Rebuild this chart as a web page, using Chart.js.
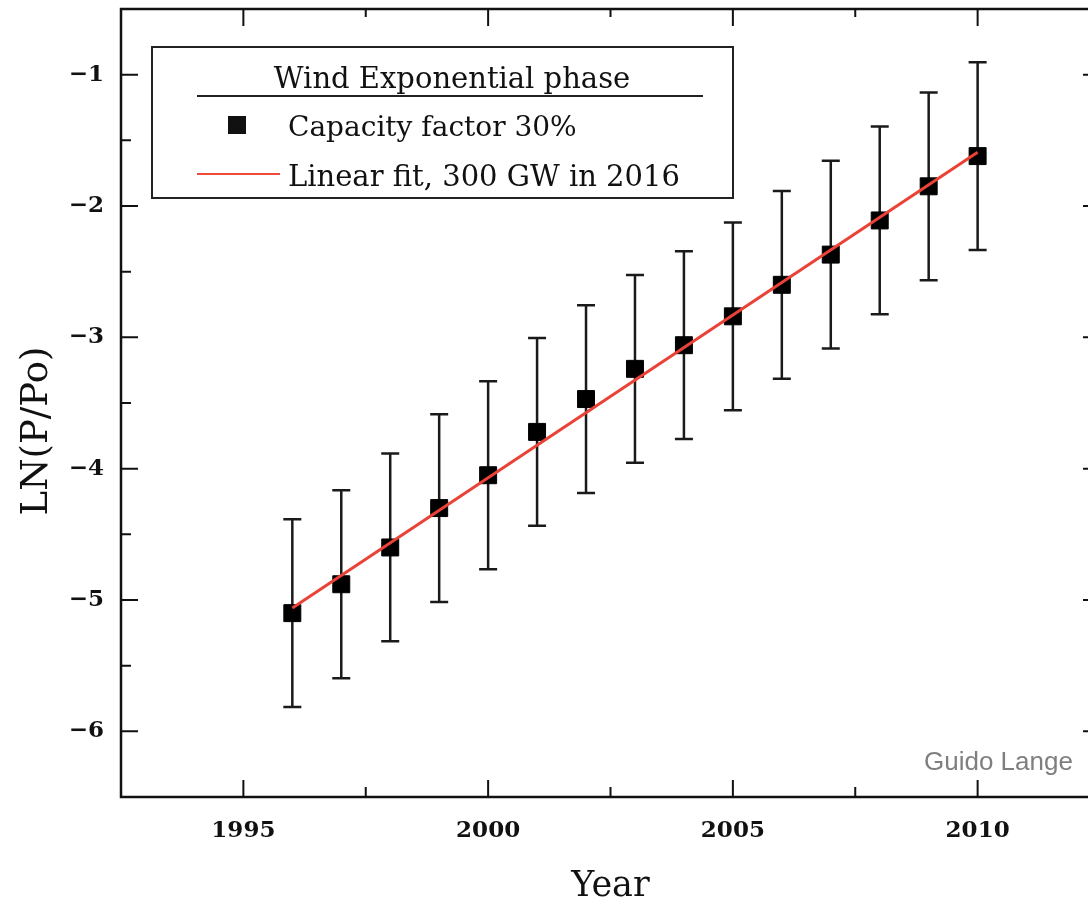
<!DOCTYPE html>
<html>
<head>
<meta charset="utf-8">
<script src="https://cdn.jsdelivr.net/npm/chart.js@4.4.0/dist/chart.umd.min.js"></script>
<style>
  html, body { margin: 0; padding: 0; background: #fff; overflow: hidden; }
</style>
</head>
<body>
<canvas id="my-chart" width="1110" height="907"></canvas>
<script>
// values
const years = [1996, 1997, 1998, 1999, 2000, 2001, 2002, 2003, 2004, 2005, 2006, 2007, 2008, 2009, 2010];
const lnValues = [-5.10, -4.88, -4.60, -4.30, -4.05, -3.72, -3.47, -3.24, -3.06, -2.84, -2.60, -2.37, -2.11, -1.85, -1.62];
const errors = [0.715, 0.715, 0.715, 0.715, 0.715, 0.715, 0.715, 0.715, 0.715, 0.715, 0.715, 0.715, 0.715, 0.715, 0.715];
const fitYears = [1996, 2010];
const fitValues = [-5.06, -1.59];

const xTicks = [1995, 2000, 2005, 2010];
const xMinorTicks = [1997.5, 2002.5, 2007.5];
const yTicks = [-6, -5, -4, -3, -2, -1];
const yMinorTicks = [-6.5, -5.5, -4.5, -3.5, -2.5, -1.5, -0.5];

const legendTitle = 'Wind Exponential phase';
const pointsLabel = 'Capacity factor 30%';
const fitLabel = 'Linear fit, 300 GW in 2016';

const serif = '"DejaVu Serif", serif';

// error bars under the squares
const errorBars = {
    id: 'errorBars',
    beforeDatasetsDraw(chart) {
        const ctx = chart.ctx;
        const xs = chart.scales.x, ys = chart.scales.y;
        ctx.save();
        ctx.strokeStyle = '#1a1a1a';
        ctx.lineWidth = 2.5;
        years.forEach((yr, i) => {
            const px = xs.getPixelForValue(yr);
            const top = ys.getPixelForValue(lnValues[i] + errors[i]);
            const bot = ys.getPixelForValue(lnValues[i] - errors[i]);
            ctx.beginPath();
            ctx.moveTo(px, top); ctx.lineTo(px, bot);
            ctx.moveTo(px - 9, top); ctx.lineTo(px + 9, top);
            ctx.moveTo(px - 9, bot); ctx.lineTo(px + 9, bot);
            ctx.stroke();
        });
        ctx.restore();
    }
};

// frame, inward ticks, legend box, y title, credit
const decorations = {
    id: 'decorations',
    afterDraw(chart) {
        const ctx = chart.ctx;
        const {left, right, top, bottom} = chart.chartArea;
        const xs = chart.scales.x, ys = chart.scales.y;
        ctx.save();
        ctx.strokeStyle = '#111';
        ctx.lineWidth = 2.5;
        ctx.strokeRect(left, top, right - left, bottom - top);

        ctx.lineWidth = 2;
        ctx.beginPath();
        xTicks.forEach(v => {
            const px = xs.getPixelForValue(v);
            ctx.moveTo(px, bottom); ctx.lineTo(px, bottom - 17);
            ctx.moveTo(px, top); ctx.lineTo(px, top + 17);
        });
        xMinorTicks.forEach(v => {
            const px = xs.getPixelForValue(v);
            ctx.moveTo(px, bottom); ctx.lineTo(px, bottom - 10);
            ctx.moveTo(px, top); ctx.lineTo(px, top + 8);
        });
        yTicks.forEach(v => {
            const py = ys.getPixelForValue(v);
            ctx.moveTo(left, py); ctx.lineTo(left + 17, py);
            ctx.moveTo(right, py); ctx.lineTo(right - 17, py);
        });
        yMinorTicks.forEach(v => {
            const py = ys.getPixelForValue(v);
            ctx.moveTo(left, py); ctx.lineTo(left + 10, py);
            ctx.moveTo(right, py); ctx.lineTo(right - 10, py);
        });
        ctx.stroke();

        // legend
        ctx.fillStyle = '#fff';
        ctx.fillRect(152, 47, 581, 151);
        ctx.strokeStyle = '#222';
        ctx.lineWidth = 2;
        ctx.strokeRect(152, 47, 581, 151);
        ctx.fillStyle = '#111';
        ctx.textBaseline = 'alphabetic';
        ctx.textAlign = 'center';
        ctx.font = '29px ' + serif;
        ctx.fillText(legendTitle, 452, 88);
        ctx.beginPath();
        ctx.moveTo(197, 96); ctx.lineTo(703, 96);
        ctx.stroke();
        ctx.fillRect(228, 116, 18, 18);
        ctx.textAlign = 'left';
        ctx.font = '28px ' + serif;
        ctx.fillText(pointsLabel, 288, 136);
        ctx.font = '29px ' + serif;
        ctx.fillText(fitLabel, 288, 186);
        ctx.strokeStyle = '#f04a3c';
        ctx.lineWidth = 2;
        ctx.beginPath();
        ctx.moveTo(197, 174); ctx.lineTo(280, 174);
        ctx.stroke();

        // y axis title
        ctx.save();
        ctx.translate(37, 431);
        ctx.rotate(-Math.PI / 2);
        ctx.textAlign = 'center';
        ctx.textBaseline = 'middle';
        ctx.fillStyle = '#111';
        ctx.font = '37px ' + serif;
        ctx.fillText('LN(P/Po)', 0, 0);
        ctx.restore();

        // credit
        ctx.fillStyle = '#7f7f7f';
        ctx.font = '26px "Liberation Sans", Arial, sans-serif';
        ctx.textAlign = 'left';
        ctx.fillText('Guido Lange', 924, 770);
        ctx.restore();
    }
};

const ctx = document.getElementById('my-chart').getContext('2d');
const chart = new Chart(ctx, {
    type: 'scatter',
    data: {
        datasets: [
            {
                type: 'line',
                label: fitLabel,
                data: fitYears.map((x, i) => ({x: x, y: fitValues[i]})),
                borderColor: '#ea4236',
                borderWidth: 3,
                pointRadius: 0,
                fill: false,
                order: 0
            },
            {
                type: 'scatter',
                label: pointsLabel,
                data: years.map((x, i) => ({x: x, y: lnValues[i]})),
                pointStyle: 'rect',
                pointRadius: 12,
                backgroundColor: '#000',
                borderColor: '#000',
                borderWidth: 1,
                order: 1
            }
        ]
    },
    options: {
        responsive: false,
        animation: false,
        layout: {autoPadding: false, padding: {top: 9, right: 10, left: 0, bottom: 0}},
        plugins: {legend: {display: false}, tooltip: {enabled: false}},
        scales: {
            x: {
                type: 'linear',
                min: 1992.5,
                max: 2012.5,
                grid: {display: false, drawTicks: false},
                border: {display: false},
                afterBuildTicks: s => { s.ticks = xTicks.map(v => ({value: v})); },
                afterFit: s => { s.height = 110; s.paddingLeft = 0; s.paddingRight = 0; },
                ticks: {
                    padding: 20,
                    color: '#111',
                    autoSkip: false,
                    maxRotation: 0,
                    font: {family: serif, size: 23, weight: 'bold'},
                    callback: v => String(v)
                },
                title: {
                    display: true,
                    text: 'Year',
                    color: '#111',
                    font: {family: serif, size: 35, lineHeight: 1.14},
                    padding: {top: 0, bottom: 0}
                }
            },
            y: {
                type: 'linear',
                min: -6.5,
                max: -0.5,
                grid: {display: false, drawTicks: false},
                border: {display: false},
                afterBuildTicks: s => { s.ticks = yTicks.map(v => ({value: v})); },
                afterFit: s => { s.width = 121; s.paddingTop = 0; s.paddingBottom = 0; },
                ticks: {
                    padding: 17,
                    color: '#111',
                    font: {family: serif, size: 23, weight: 'bold'},
                    callback: v => String(v).replace('-', '\u2212')
                }
            }
        }
    },
    plugins: [errorBars, decorations]
});
</script>
</body>
</html>
